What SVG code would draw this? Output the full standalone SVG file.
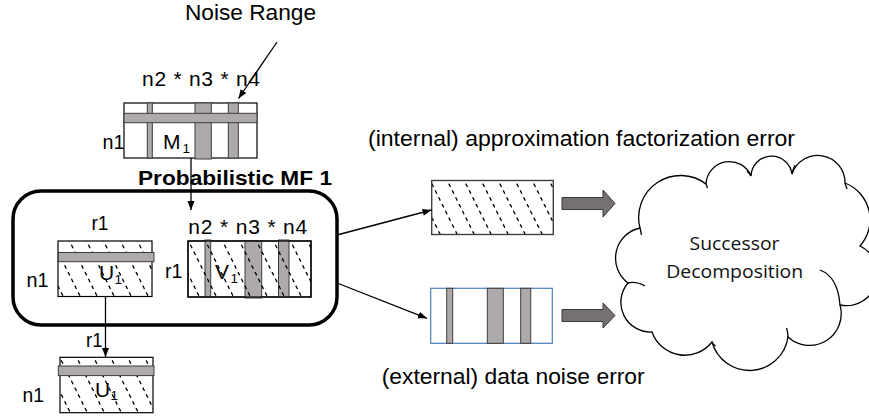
<svg xmlns="http://www.w3.org/2000/svg" width="869" height="419" viewBox="0 0 869 419">
  <style>
    .t { font-family: "Liberation Sans", Arial, sans-serif; fill: #000; }
    .lbl { font-size: 21px; }
    .cap { font-size: 22px; }
    .sub { font-size: 13.5px; }
    .bold { font-size: 21px; font-weight: bold; }
    .cloudtxt { font-family: "Open Sans", "Liberation Sans", sans-serif; font-size: 19px; fill: #111; }
    .mat { fill: #fff; stroke: #000; stroke-width: 1.2; }
    .outline { fill: none; stroke: #000; stroke-width: 1.2; }
    .band { fill: #aeaaaa; stroke: #3c3c3c; stroke-width: 1; }
    .hatch { fill: url(#hatch); stroke: none; }
    .conn { fill: none; stroke: #000; stroke-width: 1.3; marker-end: url(#arr); }
    .block { fill: #767171; stroke: #3b3838; stroke-width: 1; }
    .cloud { fill: #fff; stroke: #000; stroke-width: 1.3; }
    .crease { fill: none; stroke: #000; stroke-width: 1.3; }
  </style>
  <defs>
    <marker id="arr" markerUnits="userSpaceOnUse" markerWidth="10" markerHeight="8" refX="9" refY="3.5" orient="auto">
      <path d="M0,0 L9,3.5 L0,7 Z" fill="#000"/>
    </marker>
    <!-- dashed diagonal shading for error / factor matrices -->
    <pattern id="hatch" patternUnits="userSpaceOnUse" width="17" height="34">
      <g stroke="#000" stroke-width="1.3" stroke-dasharray="3.8 3.8">
        <line x1="0" y1="0" x2="17" y2="34"/>
        <line x1="-17" y1="0" x2="0" y2="34"/>
        <line x1="17" y1="0" x2="34" y2="34"/>
      </g>
    </pattern>
  </defs>

  <rect width="869" height="419" fill="#fff"/>

  <!-- data tensor unfolding M1 -->
  <g id="matrix-m1">
    <text class="t cap" x="185" y="19.5" textLength="131" lengthAdjust="spacingAndGlyphs">Noise Range</text>
    <text class="t lbl" x="142" y="86" textLength="118" lengthAdjust="spacing">n2 * n3 * n4</text>
    <text class="t lbl" x="102.5" y="149" textLength="22" lengthAdjust="spacingAndGlyphs">n1</text>
    <rect class="mat" x="124" y="103" width="133" height="55"/>
    <rect class="band" x="147.3" y="103" width="5" height="55"/>
    <rect class="band" x="195" y="103" width="16.3" height="56"/>
    <rect class="band" x="228.3" y="103" width="10" height="55"/>
    <rect class="band" x="124" y="113.3" width="133" height="9.4"/>
    <text class="t lbl" x="163" y="149">M</text>
    <text class="t sub" x="182.5" y="152.5">1</text>
  </g>

  <!-- probabilistic matrix factorisation block -->
  <g id="mf-box">
    <rect x="13" y="191" width="324" height="134" rx="28" ry="28" fill="none" stroke="#000" stroke-width="3.5"/>
    <text class="t bold" x="138" y="185" textLength="194" lengthAdjust="spacingAndGlyphs">Probabilistic MF 1</text>
  </g>

  <!-- left factor U1 -->
  <g id="matrix-u1">
    <text class="t lbl" x="91.5" y="230" textLength="17" lengthAdjust="spacingAndGlyphs">r1</text>
    <text class="t lbl" x="26.5" y="286.5" textLength="22" lengthAdjust="spacingAndGlyphs">n1</text>
    <rect class="mat" x="58" y="241" width="94" height="55.5"/>
    <rect class="hatch" x="58" y="241" width="94" height="55.5"/>
    <rect class="band" x="58.3" y="252.5" width="95.7" height="9.2"/>
    <text class="t lbl" x="99" y="280">U</text>
    <text class="t sub" x="114.5" y="283.5">1</text>
  </g>

  <!-- right factor V1 -->
  <g id="matrix-v1">
    <text class="t lbl" x="188.3" y="233.5" textLength="119" lengthAdjust="spacing">n2 * n3 * n4</text>
    <text class="t lbl" x="165" y="277.5" textLength="17.5" lengthAdjust="spacingAndGlyphs">r1</text>
    <rect class="mat" x="188" y="241" width="123" height="56"/>
    <rect class="band" x="205" y="240" width="5.7" height="57"/>
    <rect class="band" x="245" y="241" width="16.7" height="57"/>
    <rect class="band" x="278.5" y="240" width="10.5" height="57"/>
    <rect class="hatch" x="188" y="241" width="123" height="56"/>
    <rect class="outline" x="188" y="241" width="123" height="56"/>
    <text class="t lbl" x="215" y="279">V</text>
    <text class="t sub" x="230.5" y="283">1</text>
  </g>

  <!-- U1 passed on -->
  <g id="matrix-u1-out">
    <text class="t lbl" x="86" y="346.5" textLength="16.5" lengthAdjust="spacingAndGlyphs">r1</text>
    <text class="t lbl" x="22.5" y="401.5" textLength="21.5" lengthAdjust="spacingAndGlyphs">n1</text>
    <rect class="mat" x="60" y="357.3" width="93" height="55.4"/>
    <rect class="hatch" x="60" y="357.3" width="93" height="55.4"/>
    <rect class="band" x="58.3" y="366" width="95.7" height="9.6"/>
    <text class="t lbl" x="95" y="396.5">U</text>
    <text class="t sub" x="110.5" y="400">1</text>
  </g>

  <!-- approximation factorization error -->
  <g id="approx-error">
    <text class="t cap" x="368" y="146" textLength="427" lengthAdjust="spacingAndGlyphs">(internal) approximation factorization error</text>
    <rect x="431.7" y="180.5" width="121.6" height="54" fill="#fff"/>
    <rect class="hatch" x="431.7" y="180.5" width="121.6" height="54"/>
    <rect x="431.7" y="180.5" width="121.6" height="54" fill="none" stroke="#404040" stroke-width="1.4"/>
  </g>

  <!-- data noise error -->
  <g id="noise-error">
    <rect x="430.7" y="288.3" width="121.6" height="55" fill="#fff" stroke="#4a7ebb" stroke-width="1.2"/>
    <rect class="band" x="446.7" y="288.3" width="6" height="55"/>
    <rect class="band" x="487.3" y="288.3" width="16" height="55"/>
    <rect class="band" x="520.7" y="288.3" width="10" height="55"/>
    <text class="t cap" x="381.7" y="384" textLength="263" lengthAdjust="spacingAndGlyphs">(external) data noise error</text>
  </g>

  <!-- successor decomposition cloud -->
  <g id="successor">
    <path class="cloud" d="M640,228 A42,42 0 0 1 706,184 A23.4,23.4 0 0 1 751,176 A20.6,20.6 0 0 1 792,174 A27.2,27.2 0 0 1 845,183 A39.4,39.4 0 0 1 860,246 A31.4,31.4 0 0 1 840,305 A31.7,31.7 0 0 1 788,337 A38.9,38.9 0 0 1 712,342 A34.7,34.7 0 0 1 652,332 A29.7,29.7 0 0 1 628,283 A30.9,30.9 0 0 1 640,228 Z"/>
    <path class="crease" d="M628,283 Q636,281 645,286"/>
    <path class="crease" d="M820,270 Q838,277 840,305"/>
    <path class="crease" d="M788,337 Q788,332 786.5,328"/>
    <path class="crease" d="M712,342 Q713,344 715.5,346"/>
    <path class="crease" d="M706,184 Q707,186 707.5,188"/>
    <path class="crease" d="M751,176 Q749,173 747,171"/>
    <path class="crease" d="M792,174 Q793,169 795,165"/>
    <path class="crease" d="M845,183 Q846,186 847,189"/>
    <path class="crease" d="M640,228 Q641,232 641.5,235"/>
    <text class="cloudtxt" x="734.5" y="250" text-anchor="middle" textLength="90" lengthAdjust="spacingAndGlyphs">Successor</text>
    <text class="cloudtxt" x="734.7" y="277.7" text-anchor="middle" textLength="137" lengthAdjust="spacingAndGlyphs">Decomposition</text>
  </g>

  <!-- connectors -->
  <g id="connectors">
    <line class="conn" x1="277" y1="42" x2="238.5" y2="98.5"/>
    <line class="conn" x1="191" y1="158" x2="191" y2="210"/>
    <line class="conn" x1="105.5" y1="296.5" x2="105.5" y2="357"/>
    <line class="conn" x1="337" y1="235" x2="431.5" y2="210"/>
    <line class="conn" x1="337" y1="283" x2="427" y2="318.3"/>
    <path class="block" d="M562,197.5 H603 V190 L615,203.5 L603,217 V209.5 H562 Z"/>
    <path class="block" d="M562,309.5 H603 V303 L615,315.5 L603,328 V321.5 H562 Z"/>
  </g>
</svg>
